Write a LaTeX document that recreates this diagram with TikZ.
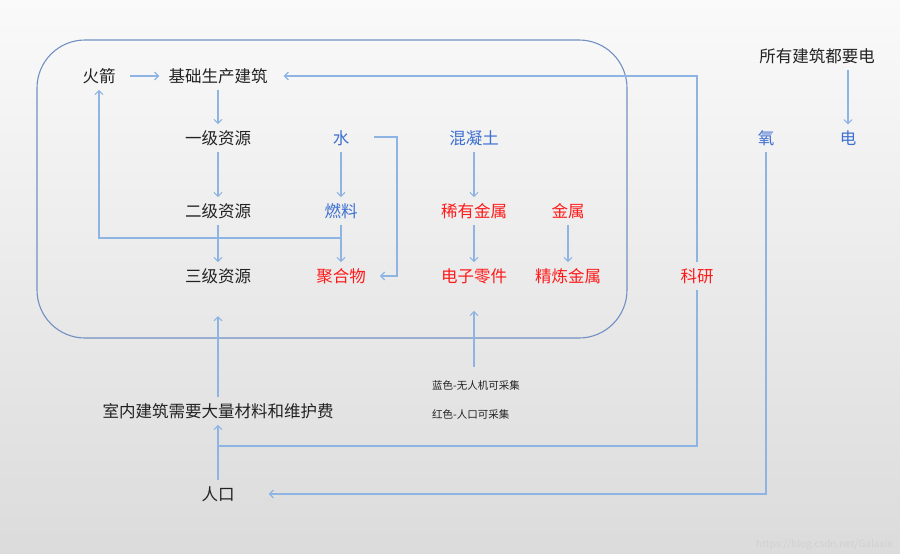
\documentclass[tikz,border=0pt]{standalone}
\usepackage{fontspec}
\setmainfont{Noto Sans CJK SC}
\usetikzlibrary{arrows.meta,calc}
\definecolor{arr}{HTML}{8EB4E3}
\definecolor{boxc}{HTML}{7290C4}
\definecolor{tblue}{HTML}{3D6FD1}
\definecolor{tred}{HTML}{FF1A1A}
\definecolor{tblack}{HTML}{222222}
\begin{document}
\begin{tikzpicture}[x=1pt,y=-1pt,
  lbl/.style={inner sep=6pt,font=\fontsize{16.5}{18}\selectfont,text=tblack},
  blu/.style={lbl,text=tblue},
  rd/.style={lbl,text=tred},
  small/.style={inner sep=2pt,font=\fontsize{10.5}{12}\selectfont,text=tblack},
  conn/.style={draw=arr,line width=1.1pt,-{Straight Barb[length=4pt,width=8pt]}},
  line/.style={draw=arr,line width=1.1pt}]
\shade[top color=white!98!black,bottom color=black!14] (0,0) rectangle (900,554);
\useasboundingbox (0,0) rectangle (900,554);
\draw[boxc,line width=1.1pt,rounded corners=48pt] (37,40) rectangle (627,338);
% nodes
\node[lbl] (huojian) at (99,76) {火箭};
\node[lbl] (jichu) at (218,76) {基础生产建筑};
\node[lbl] (yiji) at (218,138) {一级资源};
\node[lbl] (erji) at (218,211) {二级资源};
\node[lbl] (sanji) at (218,276) {三级资源};
\node[blu] (shui) at (341,138) {水};
\node[blu] (ranliao) at (341,211) {燃料};
\node[rd] (juhe) at (341,276) {聚合物};
\node[blu] (hunning) at (474,138) {混凝土};
\node[rd] (xiyou) at (474,211) {稀有金属};
\node[rd] (dianzi) at (474,276) {电子零件};
\node[rd] (jinshu) at (568,211) {金属};
\node[rd] (jinglian) at (568,276) {精炼金属};
\node[rd] (keyan) at (697,276) {科研};
\node[lbl] (allpower) at (817,56) {所有建筑都要电};
\node[blu] (yang) at (766,138) {氧};
\node[blu] (dian) at (848,138) {电};
\node[lbl] (shinei) at (218,411) {室内建筑需要大量材料和维护费};
\node[lbl] (renkou) at (218,494) {人口};
\node[small,anchor=west] (leg1) at (430,385) {蓝色-无人机可采集};
\node[small,anchor=west] (leg2) at (430,414) {红色-人口可采集};
\node[inner sep=0pt,anchor=south east,text=white!82!black,font=\fontsize{10}{11}\selectfont] (wm) at (893,550) {https://blog.csdn.net/Galaxie};
% coordinates
\coordinate (J) at (341,238);
\coordinate (shuiR) at (374,137);
\coordinate (shuiB) at (397,137);
\coordinate (legtop) at (474,367);
\coordinate (boxin) at (218,316);
\coordinate (kyB) at (697,446);
% connectors
\draw[conn,shorten <=8pt,shorten >=3pt] (huojian) -- (jichu);
\draw[conn] (jichu) -- (yiji);
\draw[conn] (yiji) -- (erji);
\draw[conn] (erji) -- (sanji);
\draw[conn] (shui) -- (ranliao);
\draw[conn] (ranliao) -- (juhe);
\draw[conn] (J) -| (huojian.south);
\draw[conn,shorten >=8pt] (shuiR) -- (shuiB) |- (juhe.east);
\draw[conn] (hunning) -- (xiyou);
\draw[conn] (xiyou) -- (dianzi);
\draw[conn] (jinshu) -- (jinglian);
\draw[conn,shorten >=21pt] (legtop) -- (dianzi.south);
\draw[conn,shorten >=10pt] (keyan.north) |- (jichu.east);
\draw[line] (keyan.south) |- (kyB) -- (shinei.south |- kyB);
\draw[conn] (renkou) -- (shinei);
\draw[conn] (shinei.north) -- (boxin);
\draw[conn] (dian |- allpower.south) -- (dian.north);
\draw[conn,shorten >=28pt] (yang.south) |- (renkou.east);
\end{tikzpicture}
\end{document}
